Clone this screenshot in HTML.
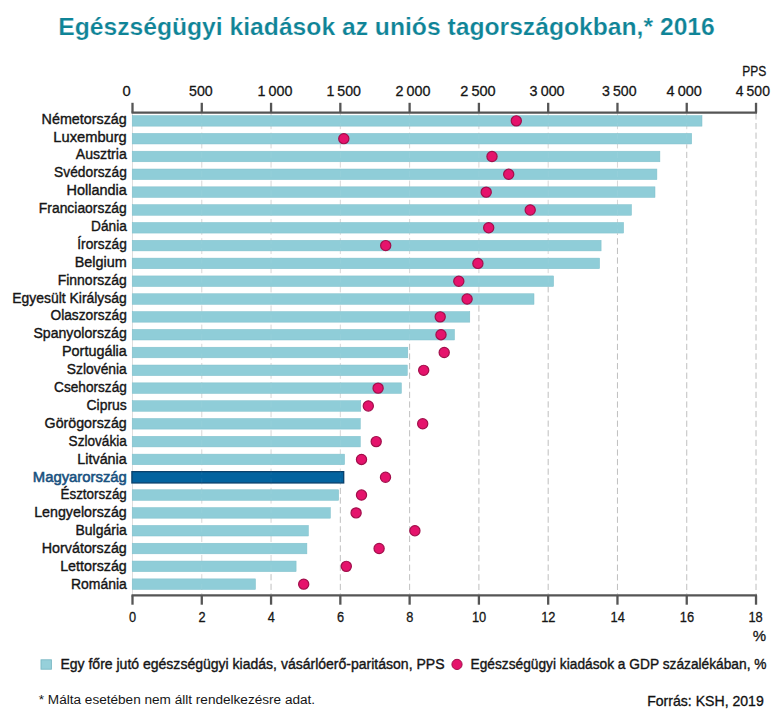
<!DOCTYPE html>
<html lang="hu"><head><meta charset="utf-8"><title>Egészségügyi kiadások az uniós tagországokban, 2016</title>
<style>
html,body{margin:0;padding:0;background:#fff;}
body{width:784px;height:722px;overflow:hidden;font-family:"Liberation Sans",sans-serif;}
svg{display:block;}
text{font-family:"Liberation Sans",sans-serif;}
.lab{font-size:15.4px;fill:#151515;stroke:#151515;stroke-width:0.4px;}
.ax{font-size:15.3px;fill:#151515;stroke:#151515;stroke-width:0.3px;}
</style></head><body>
<svg width="784" height="722" viewBox="0 0 784 722">
<rect x="0" y="0" width="784" height="722" fill="#ffffff"/>
<text x="58.2" y="35.1" font-size="24.6" font-weight="bold" fill="#0f8497" stroke="#ffffff" stroke-width="0.22" textLength="656.6" lengthAdjust="spacingAndGlyphs">Egészségügyi kiadások az uniós tagországokban,* 2016</text>
<g stroke-width="1" stroke-dasharray="6.2 3.4" fill="none">
<line x1="201.78" y1="113.4" x2="201.78" y2="590.0" stroke="#d6d6d6"/>
<line x1="201.78" y1="590.0" x2="201.78" y2="594.4" stroke="#bdbdbd" stroke-dashoffset="6.17"/>
<line x1="271.06" y1="113.4" x2="271.06" y2="572.1" stroke="#d6d6d6"/>
<line x1="271.06" y1="572.1" x2="271.06" y2="594.4" stroke="#bdbdbd" stroke-dashoffset="7.55"/>
<line x1="340.34" y1="113.4" x2="340.34" y2="483.1" stroke="#d6d6d6"/>
<line x1="340.34" y1="483.1" x2="340.34" y2="594.4" stroke="#bdbdbd" stroke-dashoffset="4.85"/>
<line x1="409.62" y1="113.4" x2="409.62" y2="340.5" stroke="#d6d6d6"/>
<line x1="409.62" y1="340.5" x2="409.62" y2="594.4" stroke="#bdbdbd" stroke-dashoffset="6.29"/>
<line x1="478.90" y1="113.4" x2="478.90" y2="304.9" stroke="#d6d6d6"/>
<line x1="478.90" y1="304.9" x2="478.90" y2="594.4" stroke="#bdbdbd" stroke-dashoffset="9.05"/>
<line x1="548.18" y1="113.4" x2="548.18" y2="287.0" stroke="#d6d6d6"/>
<line x1="548.18" y1="287.0" x2="548.18" y2="594.4" stroke="#bdbdbd" stroke-dashoffset="0.83"/>
<line x1="617.46" y1="113.4" x2="617.46" y2="233.6" stroke="#d6d6d6"/>
<line x1="617.46" y1="233.6" x2="617.46" y2="594.4" stroke="#bdbdbd" stroke-dashoffset="4.97"/>
<line x1="686.74" y1="113.4" x2="686.74" y2="144.5" stroke="#d6d6d6"/>
<line x1="686.74" y1="144.5" x2="686.74" y2="594.4" stroke="#bdbdbd" stroke-dashoffset="2.27"/>
<line x1="756.02" y1="113.4" x2="756.02" y2="594.4" stroke="#bdbdbd"/>
</g>
<line x1="132.50" y1="113" x2="132.50" y2="595" stroke="#dedede" stroke-width="1"/>
<g>
<rect x="132.2" y="115.55" width="569.8" height="10.6" fill="#8fcdd8" stroke="#7fbfcb" stroke-width="0.5"/>
<rect x="132.2" y="133.37" width="559.5" height="10.6" fill="#8fcdd8" stroke="#7fbfcb" stroke-width="0.5"/>
<rect x="132.2" y="151.19" width="527.7" height="10.6" fill="#8fcdd8" stroke="#7fbfcb" stroke-width="0.5"/>
<rect x="132.2" y="169.01" width="524.7" height="10.6" fill="#8fcdd8" stroke="#7fbfcb" stroke-width="0.5"/>
<rect x="132.2" y="186.83" width="522.8" height="10.6" fill="#8fcdd8" stroke="#7fbfcb" stroke-width="0.5"/>
<rect x="132.2" y="204.65" width="499.3" height="10.6" fill="#8fcdd8" stroke="#7fbfcb" stroke-width="0.5"/>
<rect x="132.2" y="222.47" width="491.4" height="10.6" fill="#8fcdd8" stroke="#7fbfcb" stroke-width="0.5"/>
<rect x="132.2" y="240.29" width="468.9" height="10.6" fill="#8fcdd8" stroke="#7fbfcb" stroke-width="0.5"/>
<rect x="132.2" y="258.11" width="467.4" height="10.6" fill="#8fcdd8" stroke="#7fbfcb" stroke-width="0.5"/>
<rect x="132.2" y="275.93" width="421.4" height="10.6" fill="#8fcdd8" stroke="#7fbfcb" stroke-width="0.5"/>
<rect x="132.2" y="293.75" width="401.8" height="10.6" fill="#8fcdd8" stroke="#7fbfcb" stroke-width="0.5"/>
<rect x="132.2" y="311.57" width="337.6" height="10.6" fill="#8fcdd8" stroke="#7fbfcb" stroke-width="0.5"/>
<rect x="132.2" y="329.39" width="322.3" height="10.6" fill="#8fcdd8" stroke="#7fbfcb" stroke-width="0.5"/>
<rect x="132.2" y="347.21" width="275.6" height="10.6" fill="#8fcdd8" stroke="#7fbfcb" stroke-width="0.5"/>
<rect x="132.2" y="365.03" width="275.1" height="10.6" fill="#8fcdd8" stroke="#7fbfcb" stroke-width="0.5"/>
<rect x="132.2" y="382.85" width="269.2" height="10.6" fill="#8fcdd8" stroke="#7fbfcb" stroke-width="0.5"/>
<rect x="132.2" y="400.67" width="228.6" height="10.6" fill="#8fcdd8" stroke="#7fbfcb" stroke-width="0.5"/>
<rect x="132.2" y="418.49" width="228.1" height="10.6" fill="#8fcdd8" stroke="#7fbfcb" stroke-width="0.5"/>
<rect x="132.2" y="436.31" width="228.1" height="10.6" fill="#8fcdd8" stroke="#7fbfcb" stroke-width="0.5"/>
<rect x="132.2" y="454.13" width="212.4" height="10.6" fill="#8fcdd8" stroke="#7fbfcb" stroke-width="0.5"/>
<rect x="131.9" y="471.65" width="211.8" height="11.3" fill="#03639f" stroke="#0a416b" stroke-width="1.3"/>
<rect x="132.2" y="489.77" width="206.5" height="10.6" fill="#8fcdd8" stroke="#7fbfcb" stroke-width="0.5"/>
<rect x="132.2" y="507.59" width="198.2" height="10.6" fill="#8fcdd8" stroke="#7fbfcb" stroke-width="0.5"/>
<rect x="132.2" y="525.41" width="176.2" height="10.6" fill="#8fcdd8" stroke="#7fbfcb" stroke-width="0.5"/>
<rect x="132.2" y="543.23" width="174.7" height="10.6" fill="#8fcdd8" stroke="#7fbfcb" stroke-width="0.5"/>
<rect x="132.2" y="561.05" width="163.9" height="10.6" fill="#8fcdd8" stroke="#7fbfcb" stroke-width="0.5"/>
<rect x="132.2" y="578.87" width="123.3" height="10.6" fill="#8fcdd8" stroke="#7fbfcb" stroke-width="0.5"/>
</g>
<g stroke="#ffffff" stroke-opacity="0.06" stroke-width="1" stroke-dasharray="6.2 3.4" fill="none">
<line x1="201.78" y1="113.4" x2="201.78" y2="594.4"/>
<line x1="271.06" y1="113.4" x2="271.06" y2="594.4"/>
<line x1="340.34" y1="113.4" x2="340.34" y2="594.4"/>
<line x1="409.62" y1="113.4" x2="409.62" y2="594.4"/>
<line x1="478.90" y1="113.4" x2="478.90" y2="594.4"/>
<line x1="548.18" y1="113.4" x2="548.18" y2="594.4"/>
<line x1="617.46" y1="113.4" x2="617.46" y2="594.4"/>
<line x1="686.74" y1="113.4" x2="686.74" y2="594.4"/>
<line x1="756.02" y1="113.4" x2="756.02" y2="594.4"/>
</g>
<g stroke="#555555" stroke-width="2.1" fill="none" stroke-linecap="butt">
<line x1="131.5" y1="112.6" x2="757.0" y2="112.6"/>
<line x1="131.5" y1="595.4" x2="757.0" y2="595.4"/>
<line x1="132.50" y1="102.8" x2="132.50" y2="112.6" stroke-width="2.3"/>
<line x1="132.50" y1="595.4" x2="132.50" y2="604.7" stroke-width="2.3"/>
<line x1="201.78" y1="102.8" x2="201.78" y2="112.6" stroke-width="2.3"/>
<line x1="201.78" y1="595.4" x2="201.78" y2="604.7" stroke-width="2.3"/>
<line x1="271.06" y1="102.8" x2="271.06" y2="112.6" stroke-width="2.3"/>
<line x1="271.06" y1="595.4" x2="271.06" y2="604.7" stroke-width="2.3"/>
<line x1="340.34" y1="102.8" x2="340.34" y2="112.6" stroke-width="2.3"/>
<line x1="340.34" y1="595.4" x2="340.34" y2="604.7" stroke-width="2.3"/>
<line x1="409.62" y1="102.8" x2="409.62" y2="112.6" stroke-width="2.3"/>
<line x1="409.62" y1="595.4" x2="409.62" y2="604.7" stroke-width="2.3"/>
<line x1="478.90" y1="102.8" x2="478.90" y2="112.6" stroke-width="2.3"/>
<line x1="478.90" y1="595.4" x2="478.90" y2="604.7" stroke-width="2.3"/>
<line x1="548.18" y1="102.8" x2="548.18" y2="112.6" stroke-width="2.3"/>
<line x1="548.18" y1="595.4" x2="548.18" y2="604.7" stroke-width="2.3"/>
<line x1="617.46" y1="102.8" x2="617.46" y2="112.6" stroke-width="2.3"/>
<line x1="617.46" y1="595.4" x2="617.46" y2="604.7" stroke-width="2.3"/>
<line x1="686.74" y1="102.8" x2="686.74" y2="112.6" stroke-width="2.3"/>
<line x1="686.74" y1="595.4" x2="686.74" y2="604.7" stroke-width="2.3"/>
<line x1="756.02" y1="102.8" x2="756.02" y2="112.6" stroke-width="2.3"/>
<line x1="756.02" y1="595.4" x2="756.02" y2="604.7" stroke-width="2.3"/>
</g>
<g fill="#e5136c" stroke="#a20f4b" stroke-width="1.2">
<circle cx="516.3" cy="120.85" r="5.1"/>
<circle cx="343.8" cy="138.67" r="5.1"/>
<circle cx="492.0" cy="156.49" r="5.1"/>
<circle cx="508.7" cy="174.31" r="5.1"/>
<circle cx="486.2" cy="192.13" r="5.1"/>
<circle cx="530.2" cy="209.95" r="5.1"/>
<circle cx="488.7" cy="227.77" r="5.1"/>
<circle cx="385.7" cy="245.59" r="5.1"/>
<circle cx="477.9" cy="263.41" r="5.1"/>
<circle cx="458.8" cy="281.23" r="5.1"/>
<circle cx="467.1" cy="299.05" r="5.1"/>
<circle cx="440.2" cy="316.87" r="5.1"/>
<circle cx="441.0" cy="334.69" r="5.1"/>
<circle cx="444.2" cy="352.51" r="5.1"/>
<circle cx="423.7" cy="370.33" r="5.1"/>
<circle cx="378.1" cy="388.15" r="5.1"/>
<circle cx="368.3" cy="405.97" r="5.1"/>
<circle cx="422.7" cy="423.79" r="5.1"/>
<circle cx="376.2" cy="441.61" r="5.1"/>
<circle cx="361.5" cy="459.43" r="5.1"/>
<circle cx="385.5" cy="477.25" r="5.1"/>
<circle cx="361.5" cy="495.07" r="5.1"/>
<circle cx="356.1" cy="512.89" r="5.1"/>
<circle cx="414.9" cy="530.71" r="5.1"/>
<circle cx="379.1" cy="548.53" r="5.1"/>
<circle cx="346.3" cy="566.35" r="5.1"/>
<circle cx="303.7" cy="584.17" r="5.1"/>
</g>
<g class="lab">
<text x="41.6" y="123.60" textLength="85.2" lengthAdjust="spacingAndGlyphs">Németország</text>
<text x="53.3" y="141.50" textLength="73.5" lengthAdjust="spacingAndGlyphs">Luxemburg</text>
<text x="75.8" y="159.39" textLength="51.0" lengthAdjust="spacingAndGlyphs">Ausztria</text>
<text x="54.1" y="177.28" textLength="72.7" lengthAdjust="spacingAndGlyphs">Svédország</text>
<text x="66.6" y="195.18" textLength="60.2" lengthAdjust="spacingAndGlyphs">Hollandia</text>
<text x="38.8" y="213.07" textLength="88.0" lengthAdjust="spacingAndGlyphs">Franciaország</text>
<text x="91.1" y="230.97" textLength="35.7" lengthAdjust="spacingAndGlyphs">Dánia</text>
<text x="77.3" y="248.87" textLength="49.5" lengthAdjust="spacingAndGlyphs">Írország</text>
<text x="74.7" y="266.76" textLength="52.1" lengthAdjust="spacingAndGlyphs">Belgium</text>
<text x="57.7" y="284.65" textLength="69.1" lengthAdjust="spacingAndGlyphs">Finnország</text>
<text x="12.2" y="302.55" textLength="114.6" lengthAdjust="spacingAndGlyphs">Egyesült Királyság</text>
<text x="50.5" y="320.44" textLength="76.3" lengthAdjust="spacingAndGlyphs">Olaszország</text>
<text x="33.4" y="338.34" textLength="93.4" lengthAdjust="spacingAndGlyphs">Spanyolország</text>
<text x="62.0" y="356.24" textLength="64.8" lengthAdjust="spacingAndGlyphs">Portugália</text>
<text x="66.8" y="374.13" textLength="60.0" lengthAdjust="spacingAndGlyphs">Szlovénia</text>
<text x="54.1" y="392.02" textLength="72.7" lengthAdjust="spacingAndGlyphs">Csehország</text>
<text x="86.5" y="409.92" textLength="40.3" lengthAdjust="spacingAndGlyphs">Ciprus</text>
<text x="44.6" y="427.81" textLength="82.2" lengthAdjust="spacingAndGlyphs">Görögország</text>
<text x="68.6" y="445.71" textLength="58.2" lengthAdjust="spacingAndGlyphs">Szlovákia</text>
<text x="77.3" y="463.61" textLength="49.5" lengthAdjust="spacingAndGlyphs">Litvánia</text>
<text x="32.8" y="481.50" fill="#19527f" style="fill:#19527f;stroke:#19527f;stroke-width:0.6px" textLength="94.0" lengthAdjust="spacingAndGlyphs">Magyarország</text>
<text x="60.5" y="499.39" textLength="66.3" lengthAdjust="spacingAndGlyphs">Észtország</text>
<text x="34.2" y="517.29" textLength="92.6" lengthAdjust="spacingAndGlyphs">Lengyelország</text>
<text x="75.5" y="535.18" textLength="51.3" lengthAdjust="spacingAndGlyphs">Bulgária</text>
<text x="41.8" y="553.08" textLength="85.0" lengthAdjust="spacingAndGlyphs">Horvátország</text>
<text x="60.2" y="570.98" textLength="66.6" lengthAdjust="spacingAndGlyphs">Lettország</text>
<text x="70.9" y="588.87" textLength="55.9" lengthAdjust="spacingAndGlyphs">Románia</text>
</g>
<g class="ax">
<text x="122.6" y="95.6" word-spacing="-0.9" textLength="8.2" lengthAdjust="spacingAndGlyphs">0</text>
<text x="189.0" y="95.6" word-spacing="-0.9" textLength="23.7" lengthAdjust="spacingAndGlyphs">500</text>
<text x="257.5" y="95.6" word-spacing="-0.9" textLength="35.0" lengthAdjust="spacingAndGlyphs">1 000</text>
<text x="326.4" y="95.6" word-spacing="-0.9" textLength="34.6" lengthAdjust="spacingAndGlyphs">1 500</text>
<text x="395.4" y="95.6" word-spacing="-0.9" textLength="35.0" lengthAdjust="spacingAndGlyphs">2 000</text>
<text x="460.2" y="95.6" word-spacing="-0.9" textLength="35.5" lengthAdjust="spacingAndGlyphs">2 500</text>
<text x="529.6" y="95.6" word-spacing="-0.9" textLength="35.0" lengthAdjust="spacingAndGlyphs">3 000</text>
<text x="602.0" y="95.6" word-spacing="-0.9" textLength="34.5" lengthAdjust="spacingAndGlyphs">3 500</text>
<text x="666.5" y="95.6" word-spacing="-0.9" textLength="35.4" lengthAdjust="spacingAndGlyphs">4 000</text>
<text x="735.8" y="95.6" word-spacing="-0.9" textLength="34.1" lengthAdjust="spacingAndGlyphs">4 500</text>
<text x="742.2" y="75.6" textLength="24.1" lengthAdjust="spacingAndGlyphs">PPS</text>
<text x="129.1" y="621.6" textLength="7.1" lengthAdjust="spacingAndGlyphs">0</text>
<text x="198.4" y="621.6" textLength="7.1" lengthAdjust="spacingAndGlyphs">2</text>
<text x="267.7" y="621.6" textLength="7.1" lengthAdjust="spacingAndGlyphs">4</text>
<text x="337.0" y="621.6" textLength="7.1" lengthAdjust="spacingAndGlyphs">6</text>
<text x="406.3" y="621.6" textLength="7.1" lengthAdjust="spacingAndGlyphs">8</text>
<text x="471.9" y="621.6" textLength="14.3" lengthAdjust="spacingAndGlyphs">10</text>
<text x="541.2" y="621.6" textLength="14.3" lengthAdjust="spacingAndGlyphs">12</text>
<text x="610.5" y="621.6" textLength="14.3" lengthAdjust="spacingAndGlyphs">14</text>
<text x="679.8" y="621.6" textLength="14.3" lengthAdjust="spacingAndGlyphs">16</text>
<text x="748.4" y="621.6" textLength="14.3" lengthAdjust="spacingAndGlyphs">18</text>
<text x="759.3" y="641" text-anchor="middle" font-size="15" style="font-size:15px">%</text>
</g>
<rect x="41.0" y="659.8" width="10.4" height="9.4" fill="#96d0da" stroke="#7ab8c4" stroke-width="0.9"/>
<text class="lab" x="60.4" y="669.0" textLength="384.1" lengthAdjust="spacingAndGlyphs">Egy főre jutó egészségügyi kiadás, vásárlóerő-paritáson, PPS</text>
<circle cx="457" cy="664.4" r="5.1" fill="#e5136c" stroke="#a20f4b" stroke-width="1"/>
<text class="lab" x="470.5" y="669.0" textLength="296" lengthAdjust="spacingAndGlyphs">Egészségügyi kiadások a GDP százalékában, %</text>
<text x="38.8" y="704.2" font-size="13.7" fill="#151515" textLength="276.3" lengthAdjust="spacingAndGlyphs">* Málta esetében nem állt rendelkezésre adat.</text>
<text x="647.2" y="706.4" font-size="14.2" fill="#111" stroke="#111" stroke-width="0.3" textLength="116.6" lengthAdjust="spacingAndGlyphs">Forrás: KSH, 2019</text>
</svg></body></html>
